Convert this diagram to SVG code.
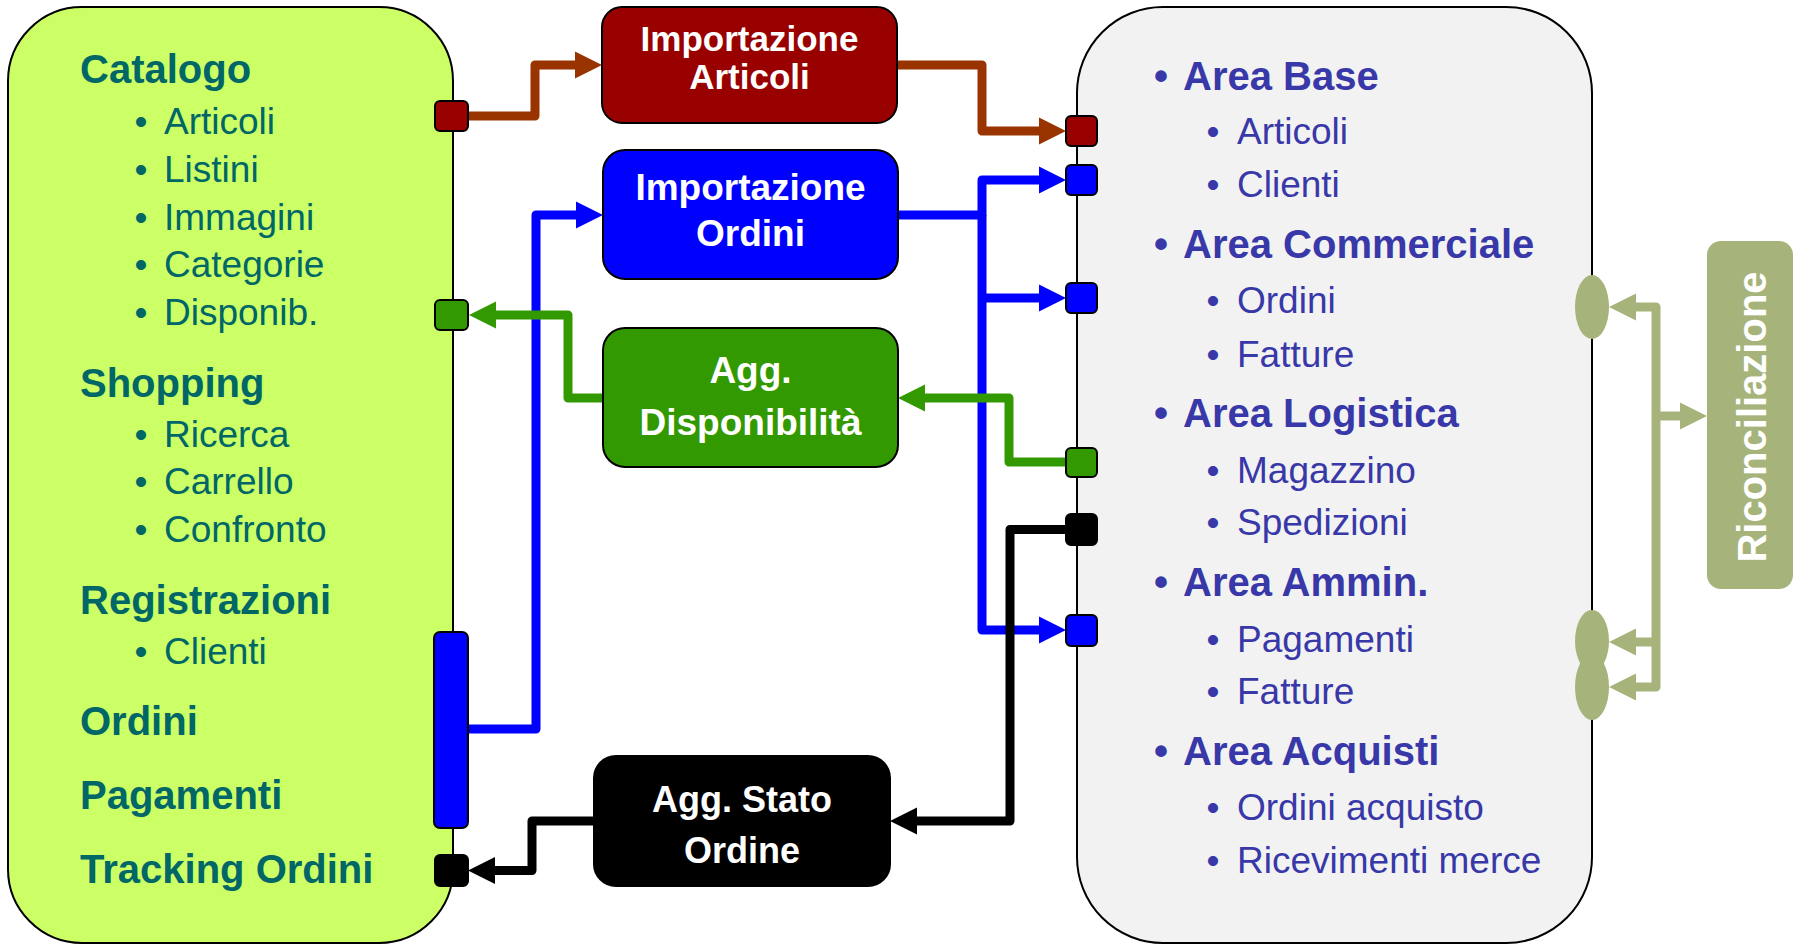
<svg xmlns="http://www.w3.org/2000/svg" width="1793" height="945" viewBox="0 0 1793 945">
<defs>
<style>
.frame{stroke:#000;stroke-width:2}
.port{stroke:#000;stroke-width:2}
.node{stroke:#000;stroke-width:2}
.lh{font-family:"Liberation Sans",Arial,sans-serif;font-weight:bold;font-size:40px;fill:#006666}
.li{font-family:"Liberation Sans",Arial,sans-serif;font-size:37px;fill:#006666}
.rh{font-family:"Liberation Sans",Arial,sans-serif;font-weight:bold;font-size:40px;fill:#3838A8}
.ri{font-family:"Liberation Sans",Arial,sans-serif;font-size:37px;fill:#3838A8}
.nt{font-family:"Liberation Sans",Arial,sans-serif;font-weight:bold;fill:#fff;text-anchor:middle}
.c{fill:none;stroke-width:9;stroke-linejoin:round}
.brown{stroke:#993300}
.blue{stroke:#0000FF}
.green{stroke:#339900}
.black{stroke:#000}
.olive{stroke:#A6B47B}
</style>
<marker id="mBrown" markerUnits="userSpaceOnUse" markerWidth="28" markerHeight="28" refX="0" refY="13.5" orient="auto" overflow="visible"><path d="M0,0 L27,13.5 L0,27 z" fill="#993300"/></marker>
<marker id="mBlue" markerUnits="userSpaceOnUse" markerWidth="28" markerHeight="28" refX="0" refY="13.5" orient="auto" overflow="visible"><path d="M0,0 L27,13.5 L0,27 z" fill="#0000FF"/></marker>
<marker id="mGreen" markerUnits="userSpaceOnUse" markerWidth="28" markerHeight="28" refX="0" refY="13.5" orient="auto" overflow="visible"><path d="M0,0 L27,13.5 L0,27 z" fill="#339900"/></marker>
<marker id="mBlack" markerUnits="userSpaceOnUse" markerWidth="28" markerHeight="28" refX="0" refY="13.5" orient="auto" overflow="visible"><path d="M0,0 L27,13.5 L0,27 z" fill="#000"/></marker>
<marker id="mOlive" markerUnits="userSpaceOnUse" markerWidth="28" markerHeight="28" refX="0" refY="13.5" orient="auto" overflow="visible"><path d="M0,0 L27,13.5 L0,27 z" fill="#A6B47B"/></marker>
</defs>
<rect width="1793" height="945" fill="#fff"/>

<g id="web-shop">
<rect class="frame" x="8" y="7" width="445" height="936" rx="74" fill="#CCFF66"/>
<text class="lh" x="80" y="83">Catalogo</text>
<text class="li" y="134"><tspan x="134.5">•</tspan><tspan x="164">Articoli</tspan></text>
<text class="li" y="182"><tspan x="134.5">•</tspan><tspan x="164">Listini</tspan></text>
<text class="li" y="230"><tspan x="134.5">•</tspan><tspan x="164">Immagini</tspan></text>
<text class="li" y="277"><tspan x="134.5">•</tspan><tspan x="164">Categorie</tspan></text>
<text class="li" y="325"><tspan x="134.5">•</tspan><tspan x="164">Disponib.</tspan></text>
<text class="lh" x="80" y="397">Shopping</text>
<text class="li" y="447"><tspan x="134.5">•</tspan><tspan x="164">Ricerca</tspan></text>
<text class="li" y="494"><tspan x="134.5">•</tspan><tspan x="164">Carrello</tspan></text>
<text class="li" y="542"><tspan x="134.5">•</tspan><tspan x="164">Confronto</tspan></text>
<text class="lh" x="80" y="614">Registrazioni</text>
<text class="li" y="664"><tspan x="134.5">•</tspan><tspan x="164">Clienti</tspan></text>
<text class="lh" x="80" y="735">Ordini</text>
<text class="lh" x="80" y="809">Pagamenti</text>
<text class="lh" x="80" y="883">Tracking Ordini</text>
</g>

<g id="erp">
<rect class="frame" x="1077" y="7" width="515" height="936" rx="86" fill="#F2F2F2"/>
<text class="rh" y="90"><tspan x="1154">•</tspan><tspan x="1183">Area Base</tspan></text>
<text class="ri" y="144"><tspan x="1206.5">•</tspan><tspan x="1237">Articoli</tspan></text>
<text class="ri" y="197"><tspan x="1206.5">•</tspan><tspan x="1237">Clienti</tspan></text>
<text class="rh" y="258"><tspan x="1154">•</tspan><tspan x="1183">Area Commerciale</tspan></text>
<text class="ri" y="313"><tspan x="1206.5">•</tspan><tspan x="1237">Ordini</tspan></text>
<text class="ri" y="367"><tspan x="1206.5">•</tspan><tspan x="1237">Fatture</tspan></text>
<text class="rh" y="427"><tspan x="1154">•</tspan><tspan x="1183">Area Logistica</tspan></text>
<text class="ri" y="483"><tspan x="1206.5">•</tspan><tspan x="1237">Magazzino</tspan></text>
<text class="ri" y="535"><tspan x="1206.5">•</tspan><tspan x="1237">Spedizioni</tspan></text>
<text class="rh" y="596"><tspan x="1154">•</tspan><tspan x="1183">Area Ammin.</tspan></text>
<text class="ri" y="652"><tspan x="1206.5">•</tspan><tspan x="1237">Pagamenti</tspan></text>
<text class="ri" y="704"><tspan x="1206.5">•</tspan><tspan x="1237">Fatture</tspan></text>
<text class="rh" y="765"><tspan x="1154">•</tspan><tspan x="1183">Area Acquisti</tspan></text>
<text class="ri" y="820"><tspan x="1206.5">•</tspan><tspan x="1237">Ordini acquisto</tspan></text>
<text class="ri" y="873"><tspan x="1206.5">•</tspan><tspan x="1237">Ricevimenti merce</tspan></text>
</g>

<g id="connectors">
<path class="c blue" d="M468 729 H536 V215 H576" marker-end="url(#mBlue)"/>
<path class="c blue" d="M898 215 H982 V180 H1039" marker-end="url(#mBlue)"/>
<path class="c blue" d="M982 215 V630 H1039" marker-end="url(#mBlue)"/>
<path class="c blue" d="M982 298 H1039" marker-end="url(#mBlue)"/>
<path class="c brown" d="M468 116 H535 V65 H575" marker-end="url(#mBrown)"/>
<path class="c brown" d="M897 65 H982 V131 H1039" marker-end="url(#mBrown)"/>
<path class="c green" d="M1066 462 H1009 V398 H925" marker-end="url(#mGreen)"/>
<path class="c green" d="M603 398 H568 V315 H496" marker-end="url(#mGreen)"/>
<path class="c black" d="M1066 529.5 H1010 V821 H917" marker-end="url(#mBlack)"/>
<path class="c black" d="M594 821 H532 V870.5 H495" marker-end="url(#mBlack)"/>
<path class="c olive" d="M1656 416 V307 H1636" marker-end="url(#mOlive)"/>
<path class="c olive" d="M1656 416 V687 H1636" marker-end="url(#mOlive)"/>
<path class="c olive" d="M1656 642 H1636" marker-end="url(#mOlive)"/>
<path class="c olive" d="M1656 416 H1680" marker-end="url(#mOlive)"/>
</g>

<g id="ports">
<rect class="port" x="435" y="101" width="33" height="30" rx="5" fill="#990000"/>
<rect class="port" x="435" y="300" width="33" height="30" rx="5" fill="#339900"/>
<rect class="port" x="434" y="632" width="34" height="196" rx="6" fill="#0000FF"/>
<rect class="port" x="435" y="855" width="33" height="31" rx="5" fill="#000"/>
<rect class="port" x="1066" y="116" width="31" height="30" rx="5" fill="#990000"/>
<rect class="port" x="1066" y="165" width="31" height="30" rx="5" fill="#0000FF"/>
<rect class="port" x="1066" y="283" width="31" height="30" rx="5" fill="#0000FF"/>
<rect class="port" x="1066" y="448" width="31" height="29" rx="5" fill="#339900"/>
<rect class="port" x="1066" y="514" width="31" height="31" rx="5" fill="#000"/>
<rect class="port" x="1066" y="615" width="31" height="31" rx="5" fill="#0000FF"/>
<ellipse cx="1592" cy="307" rx="17" ry="32" fill="#A6B47B"/>
<ellipse cx="1592" cy="641" rx="17" ry="31" fill="#A6B47B"/>
<ellipse cx="1592" cy="687" rx="17" ry="33" fill="#A6B47B"/>
</g>

<g id="importazione-articoli">
<rect class="node" x="602" y="7" width="295" height="116" rx="20" fill="#990000"/>
<text class="nt" x="749.5" y="51" font-size="35">Importazione</text>
<text class="nt" x="749.5" y="89" font-size="35">Articoli</text>
</g>

<g id="importazione-ordini">
<rect class="node" x="603" y="150" width="295" height="129" rx="22" fill="#0000FF"/>
<text class="nt" x="750.5" y="200" font-size="37">Importazione</text>
<text class="nt" x="750.5" y="246" font-size="37">Ordini</text>
</g>

<g id="agg-disponibilita">
<rect class="node" x="603" y="328" width="295" height="139" rx="22" fill="#339900"/>
<text class="nt" x="750.5" y="383" font-size="37">Agg.</text>
<text class="nt" x="750.5" y="435" font-size="37">Disponibilità</text>
</g>

<g id="agg-stato-ordine">
<rect class="node" x="594" y="756" width="296" height="130" rx="22" fill="#000"/>
<text class="nt" x="742" y="812" font-size="36">Agg. Stato</text>
<text class="nt" x="742" y="863" font-size="36">Ordine</text>
</g>

<g id="riconciliazione">
<rect x="1707" y="241" width="86" height="348" rx="14" fill="#A6B47B"/>
<text class="nt" font-size="40" transform="translate(1766 417) rotate(-90)" x="0" y="0">Riconciliazione</text>
</g>
</svg>
